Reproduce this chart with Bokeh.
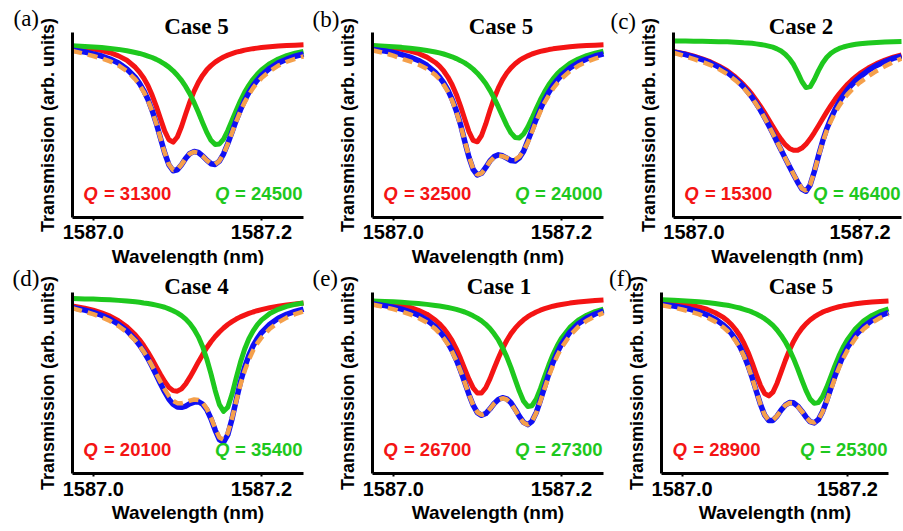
from bokeh.plotting import figure
from bokeh.models import Range1d, Label, FixedTicker, NumeralTickFormatter, LinearAxis
from bokeh.layouts import column, row
from bokeh.embed import file_html
from bokeh.resources import INLINE

# ---------------- data ----------------
wavelength_nm = [1586.975, 1586.99, 1587.00, 1587.01, 1587.02, 1587.03, 1587.04, 1587.05,
                 1587.055, 1587.06, 1587.065, 1587.07, 1587.075, 1587.08, 1587.085, 1587.09,
                 1587.095, 1587.10, 1587.105, 1587.11, 1587.115, 1587.12, 1587.125, 1587.13,
                 1587.135, 1587.14, 1587.145, 1587.15, 1587.155, 1587.16, 1587.165, 1587.17,
                 1587.175, 1587.18, 1587.185, 1587.19, 1587.195, 1587.20, 1587.21, 1587.22,
                 1587.23, 1587.24, 1587.25]

red_a = [0.925, 0.919, 0.912, 0.904, 0.892, 0.875, 0.851, 0.813, 0.787, 0.755, 0.714, 0.662, 0.601, 0.533, 0.467, 0.420, 0.407, 0.435, 0.492, 0.561, 0.627, 0.684, 0.731, 0.769, 0.799, 0.822, 0.841, 0.856, 0.869, 0.879, 0.887, 0.895, 0.900, 0.906, 0.910, 0.914, 0.917, 0.920, 0.924, 0.928, 0.931, 0.933, 0.935]
green_a = [0.930, 0.926, 0.923, 0.920, 0.915, 0.910, 0.903, 0.893, 0.888, 0.882, 0.874, 0.866, 0.856, 0.844, 0.830, 0.814, 0.794, 0.770, 0.742, 0.708, 0.668, 0.621, 0.569, 0.513, 0.460, 0.417, 0.394, 0.397, 0.424, 0.470, 0.524, 0.579, 0.631, 0.677, 0.715, 0.748, 0.775, 0.798, 0.833, 0.858, 0.876, 0.889, 0.899]
blue_a = [0.906, 0.896, 0.886, 0.874, 0.858, 0.836, 0.804, 0.758, 0.726, 0.687, 0.639, 0.579, 0.508, 0.428, 0.348, 0.284, 0.252, 0.257, 0.285, 0.320, 0.346, 0.356, 0.351, 0.333, 0.309, 0.290, 0.286, 0.304, 0.344, 0.400, 0.462, 0.525, 0.582, 0.633, 0.676, 0.713, 0.743, 0.769, 0.808, 0.837, 0.857, 0.873, 0.885]
fit_a = [0.902, 0.886, 0.874, 0.861, 0.845, 0.823, 0.792, 0.748, 0.717, 0.680, 0.634, 0.576, 0.507, 0.428, 0.349, 0.286, 0.255, 0.259, 0.286, 0.320, 0.345, 0.354, 0.349, 0.332, 0.309, 0.291, 0.288, 0.305, 0.343, 0.398, 0.458, 0.519, 0.574, 0.623, 0.664, 0.700, 0.729, 0.754, 0.793, 0.822, 0.843, 0.859, 0.872]

red_b = [0.929, 0.923, 0.918, 0.911, 0.901, 0.888, 0.868, 0.839, 0.819, 0.793, 0.760, 0.718, 0.666, 0.603, 0.532, 0.464, 0.417, 0.409, 0.443, 0.506, 0.578, 0.645, 0.701, 0.746, 0.782, 0.810, 0.832, 0.850, 0.864, 0.875, 0.885, 0.892, 0.899, 0.904, 0.909, 0.913, 0.916, 0.919, 0.924, 0.928, 0.931, 0.933, 0.935]
green_b = [0.931, 0.927, 0.924, 0.921, 0.916, 0.911, 0.904, 0.896, 0.891, 0.885, 0.878, 0.870, 0.860, 0.849, 0.837, 0.821, 0.803, 0.781, 0.755, 0.725, 0.688, 0.646, 0.598, 0.547, 0.498, 0.457, 0.432, 0.430, 0.451, 0.489, 0.537, 0.588, 0.637, 0.680, 0.718, 0.750, 0.777, 0.799, 0.834, 0.858, 0.876, 0.889, 0.900]
blue_b = [0.910, 0.901, 0.893, 0.882, 0.868, 0.850, 0.824, 0.786, 0.760, 0.728, 0.689, 0.639, 0.577, 0.503, 0.412, 0.326, 0.259, 0.229, 0.238, 0.270, 0.305, 0.329, 0.338, 0.333, 0.320, 0.307, 0.305, 0.322, 0.358, 0.415, 0.473, 0.532, 0.587, 0.636, 0.678, 0.714, 0.744, 0.769, 0.809, 0.837, 0.858, 0.874, 0.886]
fit_b = [0.905, 0.890, 0.876, 0.860, 0.845, 0.828, 0.805, 0.772, 0.748, 0.718, 0.681, 0.633, 0.572, 0.499, 0.414, 0.330, 0.263, 0.231, 0.238, 0.268, 0.302, 0.325, 0.334, 0.331, 0.322, 0.313, 0.313, 0.328, 0.360, 0.405, 0.462, 0.520, 0.574, 0.622, 0.662, 0.697, 0.726, 0.751, 0.792, 0.821, 0.843, 0.860, 0.874]

red_c = [0.899, 0.885, 0.873, 0.859, 0.842, 0.820, 0.794, 0.760, 0.740, 0.718, 0.693, 0.666, 0.635, 0.602, 0.567, 0.530, 0.492, 0.455, 0.422, 0.393, 0.373, 0.363, 0.363, 0.375, 0.396, 0.425, 0.459, 0.496, 0.534, 0.571, 0.606, 0.639, 0.669, 0.696, 0.721, 0.743, 0.762, 0.780, 0.809, 0.833, 0.852, 0.868, 0.880]
green_c = [0.956, 0.955, 0.954, 0.954, 0.953, 0.952, 0.951, 0.949, 0.948, 0.946, 0.945, 0.943, 0.940, 0.937, 0.933, 0.928, 0.922, 0.913, 0.901, 0.884, 0.860, 0.828, 0.784, 0.736, 0.703, 0.708, 0.747, 0.795, 0.836, 0.867, 0.889, 0.904, 0.915, 0.923, 0.929, 0.934, 0.938, 0.941, 0.945, 0.948, 0.950, 0.952, 0.953]
blue_c = [0.896, 0.882, 0.869, 0.855, 0.837, 0.814, 0.786, 0.750, 0.729, 0.706, 0.679, 0.650, 0.617, 0.581, 0.541, 0.499, 0.455, 0.409, 0.364, 0.319, 0.275, 0.232, 0.189, 0.153, 0.141, 0.175, 0.248, 0.333, 0.412, 0.480, 0.536, 0.585, 0.626, 0.661, 0.692, 0.718, 0.742, 0.762, 0.796, 0.823, 0.844, 0.861, 0.874]
fit_c = [0.893, 0.872, 0.857, 0.842, 0.825, 0.803, 0.776, 0.742, 0.722, 0.700, 0.674, 0.645, 0.613, 0.578, 0.539, 0.497, 0.454, 0.409, 0.364, 0.320, 0.276, 0.233, 0.191, 0.155, 0.143, 0.176, 0.247, 0.330, 0.406, 0.470, 0.522, 0.567, 0.605, 0.638, 0.666, 0.690, 0.712, 0.731, 0.764, 0.793, 0.818, 0.841, 0.860]

red_d = [0.924, 0.912, 0.901, 0.886, 0.868, 0.843, 0.810, 0.765, 0.738, 0.706, 0.670, 0.631, 0.589, 0.547, 0.508, 0.476, 0.458, 0.455, 0.468, 0.495, 0.532, 0.573, 0.616, 0.656, 0.694, 0.727, 0.756, 0.781, 0.803, 0.822, 0.838, 0.852, 0.864, 0.874, 0.883, 0.891, 0.898, 0.904, 0.915, 0.923, 0.930, 0.935, 0.940]
green_d = [0.965, 0.963, 0.962, 0.960, 0.958, 0.955, 0.951, 0.947, 0.945, 0.941, 0.938, 0.934, 0.929, 0.923, 0.917, 0.908, 0.898, 0.886, 0.871, 0.852, 0.827, 0.795, 0.754, 0.701, 0.632, 0.550, 0.459, 0.381, 0.344, 0.367, 0.438, 0.528, 0.614, 0.686, 0.743, 0.786, 0.820, 0.846, 0.883, 0.906, 0.922, 0.933, 0.941]
blue_d = [0.916, 0.901, 0.889, 0.873, 0.852, 0.824, 0.788, 0.739, 0.709, 0.674, 0.635, 0.591, 0.544, 0.496, 0.451, 0.411, 0.383, 0.368, 0.366, 0.373, 0.386, 0.395, 0.397, 0.384, 0.353, 0.303, 0.241, 0.188, 0.174, 0.215, 0.302, 0.406, 0.504, 0.586, 0.652, 0.704, 0.745, 0.777, 0.824, 0.856, 0.878, 0.894, 0.907]
fit_d = [0.912, 0.893, 0.879, 0.862, 0.841, 0.814, 0.780, 0.734, 0.706, 0.673, 0.636, 0.594, 0.550, 0.506, 0.465, 0.428, 0.402, 0.389, 0.388, 0.394, 0.403, 0.409, 0.407, 0.391, 0.359, 0.309, 0.250, 0.200, 0.188, 0.225, 0.305, 0.400, 0.490, 0.566, 0.628, 0.678, 0.718, 0.750, 0.799, 0.834, 0.860, 0.879, 0.894]

red_e = [0.950, 0.943, 0.936, 0.928, 0.916, 0.900, 0.879, 0.847, 0.826, 0.801, 0.770, 0.733, 0.688, 0.636, 0.578, 0.521, 0.473, 0.445, 0.445, 0.474, 0.523, 0.581, 0.638, 0.690, 0.734, 0.772, 0.802, 0.827, 0.848, 0.865, 0.879, 0.891, 0.901, 0.909, 0.916, 0.923, 0.928, 0.932, 0.940, 0.946, 0.950, 0.954, 0.957]
green_e = [0.951, 0.949, 0.947, 0.944, 0.941, 0.938, 0.933, 0.927, 0.924, 0.920, 0.916, 0.911, 0.905, 0.898, 0.891, 0.881, 0.870, 0.857, 0.842, 0.823, 0.800, 0.771, 0.737, 0.694, 0.644, 0.585, 0.519, 0.454, 0.400, 0.371, 0.375, 0.411, 0.469, 0.535, 0.599, 0.657, 0.705, 0.746, 0.806, 0.846, 0.873, 0.893, 0.907]
blue_e = [0.936, 0.926, 0.918, 0.907, 0.892, 0.873, 0.847, 0.810, 0.785, 0.756, 0.721, 0.678, 0.628, 0.569, 0.504, 0.437, 0.378, 0.337, 0.322, 0.332, 0.357, 0.387, 0.409, 0.419, 0.413, 0.391, 0.356, 0.316, 0.283, 0.271, 0.289, 0.337, 0.405, 0.479, 0.551, 0.614, 0.668, 0.713, 0.780, 0.826, 0.858, 0.880, 0.898]
fit_e = [0.932, 0.918, 0.907, 0.894, 0.878, 0.858, 0.833, 0.798, 0.774, 0.746, 0.713, 0.672, 0.624, 0.567, 0.503, 0.437, 0.379, 0.339, 0.324, 0.333, 0.357, 0.386, 0.407, 0.416, 0.409, 0.387, 0.352, 0.313, 0.281, 0.270, 0.289, 0.335, 0.400, 0.470, 0.538, 0.598, 0.650, 0.694, 0.762, 0.809, 0.843, 0.867, 0.886]

red_f = [0.947, 0.941, 0.936, 0.928, 0.919, 0.906, 0.887, 0.861, 0.843, 0.821, 0.793, 0.760, 0.718, 0.668, 0.609, 0.545, 0.485, 0.442, 0.429, 0.450, 0.499, 0.561, 0.624, 0.681, 0.729, 0.768, 0.800, 0.826, 0.847, 0.864, 0.878, 0.890, 0.899, 0.907, 0.914, 0.920, 0.925, 0.929, 0.936, 0.942, 0.946, 0.949, 0.952]
green_f = [0.958, 0.955, 0.953, 0.950, 0.947, 0.943, 0.938, 0.931, 0.928, 0.923, 0.918, 0.913, 0.906, 0.899, 0.890, 0.880, 0.868, 0.854, 0.837, 0.817, 0.792, 0.762, 0.727, 0.684, 0.634, 0.578, 0.517, 0.459, 0.412, 0.388, 0.392, 0.424, 0.475, 0.534, 0.594, 0.649, 0.697, 0.737, 0.799, 0.842, 0.872, 0.893, 0.908]
blue_f = [0.933, 0.924, 0.916, 0.906, 0.893, 0.876, 0.852, 0.819, 0.798, 0.771, 0.739, 0.700, 0.652, 0.594, 0.527, 0.453, 0.381, 0.323, 0.293, 0.294, 0.318, 0.351, 0.378, 0.392, 0.391, 0.373, 0.345, 0.313, 0.287, 0.280, 0.298, 0.341, 0.401, 0.469, 0.536, 0.596, 0.649, 0.694, 0.763, 0.811, 0.845, 0.870, 0.888]
fit_f = [0.929, 0.915, 0.905, 0.893, 0.879, 0.861, 0.838, 0.806, 0.786, 0.761, 0.730, 0.693, 0.647, 0.591, 0.525, 0.452, 0.381, 0.324, 0.295, 0.296, 0.319, 0.351, 0.377, 0.390, 0.389, 0.371, 0.344, 0.313, 0.288, 0.282, 0.299, 0.339, 0.396, 0.461, 0.525, 0.583, 0.634, 0.678, 0.747, 0.797, 0.833, 0.859, 0.878]

panel_tags = ["(a)", "(b)", "(c)", "(d)", "(e)", "(f)"]
case_titles = ["Case 5", "Case 5", "Case 2", "Case 4", "Case 1", "Case 5"]
q_red = ["31300", "32500", "15300", "20100", "26700", "28900"]
q_green = ["24500", "24000", "46400", "35400", "27300", "25300"]
tick_values = [1587.0, 1587.2]

red_series = [red_a, red_b, red_c, red_d, red_e, red_f]
green_series = [green_a, green_b, green_c, green_d, green_e, green_f]
blue_series = [blue_a, blue_b, blue_c, blue_d, blue_e, blue_f]
fit_series = [fit_a, fit_b, fit_c, fit_d, fit_e, fit_f]

# ---------------- styles / layout ----------------
X0, X1 = 1586.975, 1587.25      # extent of the drawn axes (nm)
Y0, Y1 = 0.0, 1.0               # extent of the drawn axes (arb. units)
SANS = "Liberation Sans"
SERIF = "Liberation Serif"
RED = "#f41414"
GREEN = "#1ec81e"
BLUE = "#1010f4"
ORANGE = "#f5a04b"
# labels are anchored at the middle of their text box: offset from baseline to box middle (em)
SANS_MID = 0.3465
SERIF_MID = 0.3375

# screen-pixel layout: figure box (fx, fy, w, h), axes box (pl, pt, pr, pb), text anchors (baselines)
TOP = dict(fy=0, h=265, pt=32.3, pb=216.7)
BOT = dict(fy=265, h=265, pt=291.7, pb=473.3)
layout_specs = [
    dict(TOP, fx=0,   w=308, pl=71.7,  pr=303, tag=(13, 25.5),  title=(196, 33.3)),
    dict(TOP, fx=308, w=300, pl=371.7, pr=603, tag=(312, 27),   title=(500.5, 33.3)),
    dict(TOP, fx=608, w=294, pl=672.7, pr=901, tag=(610, 28.5), title=(800.5, 33.3)),
    dict(BOT, fx=0,   w=308, pl=71.7,  pr=303, tag=(12, 286),   title=(196, 293.3)),
    dict(BOT, fx=308, w=300, pl=371.7, pr=603, tag=(312, 286),  title=(498.5, 293.3)),
    dict(BOT, fx=608, w=294, pl=661,   pr=888, tag=(608.5, 286), title=(800.5, 293.3)),
]


def make_panel(k):
    s = layout_specs[k]
    pl, pt, pr, pb = s["pl"], s["pt"], s["pr"], s["pb"]
    xs = (X1 - X0) / (pr - pl)
    ys = (Y1 - Y0) / (pb - pt)

    def dx(px):
        return X0 + (px - pl) * xs

    def dy(py):
        return Y1 - (py - pt) * ys

    x_range = Range1d(dx(s["fx"]), dx(s["fx"] + s["w"]))
    y_range = Range1d(dy(s["fy"] + s["h"]), dy(s["fy"]))

    p = figure(width=s["w"], height=s["h"], x_range=x_range, y_range=y_range,
               output_backend="svg", toolbar_location=None, title=None,
               x_axis_location=None, y_axis_location=None,
               min_border_left=0, min_border_right=0, min_border_top=0, min_border_bottom=0)
    p.background_fill_color = "white"
    p.border_fill_color = "white"
    p.outline_line_color = None
    p.xgrid.visible = False
    p.ygrid.visible = False

    p.line(wavelength_nm, red_series[k], line_color=RED, line_width=5, line_join="round")
    p.line(wavelength_nm, green_series[k], line_color=GREEN, line_width=5, line_join="round")
    p.line(wavelength_nm, blue_series[k], line_color=BLUE, line_width=5.5, line_join="round")
    p.line(wavelength_nm, fit_series[k], line_color=ORANGE, line_width=4.5, line_dash="10 6")

    xa = LinearAxis(fixed_location=Y0, bounds=(X0, X1),
                    ticker=FixedTicker(ticks=tick_values),
                    formatter=NumeralTickFormatter(format="0.0"),
                    axis_label="Wavelength (nm)")
    xa.axis_line_width = 3
    xa.axis_line_color = "black"
    xa.major_tick_out = 3
    xa.major_tick_in = 0
    xa.major_tick_line_width = 2
    xa.minor_tick_line_color = None
    xa.major_label_standoff = 5
    xa.major_label_text_font = SANS
    xa.major_label_text_font_size = "20px"
    xa.major_label_text_font_style = "bold"
    xa.major_label_text_color = "black"
    xa.axis_label_text_font = SANS
    xa.axis_label_text_font_size = "19px"
    xa.axis_label_text_font_style = "bold"
    xa.axis_label_text_color = "black"
    xa.axis_label_standoff = 3
    p.add_layout(xa, "below")

    ya = LinearAxis(fixed_location=X0, bounds=(Y0, Y1), ticker=FixedTicker(ticks=[]),
                    axis_label="Transmission (arb. units)")
    ya.axis_line_width = 3
    ya.axis_line_color = "black"
    ya.major_tick_out = 0
    ya.major_tick_in = 0
    ya.minor_tick_line_color = None
    ya.major_label_standoff = 0
    ya.axis_label_text_font = SANS
    ya.axis_label_text_font_size = "18px"
    ya.axis_label_text_font_style = "bold"
    ya.axis_label_text_color = "black"
    ya.axis_label_standoff = 15
    p.add_layout(ya, "left")

    def add_text(x, baseline, text, font, size, style, color, align, mid):
        p.add_layout(Label(x=dx(x), y=dy(baseline - mid * size), text=text,
                           text_align=align, text_baseline="middle",
                           text_font=font, text_font_size=f"{size}px",
                           text_font_style=style, text_color=color))

    # panel tag and case title
    tx, ty = s["tag"]
    add_text(tx, ty, panel_tags[k], SERIF, 23, "normal", "black", "left", SERIF_MID)
    cx, cy = s["title"]
    add_text(cx, cy, case_titles[k], SERIF, 23, "bold", "black", "center", SERIF_MID)
    # Q labels
    qb = pb - 17.5
    add_text(pl + 11, qb, "Q", SANS, 18.5, "bold italic", RED, "left", SANS_MID)
    add_text(pl + 31.7, qb, "= " + q_red[k], SANS, 18.5, "bold", RED, "left", SANS_MID)
    add_text(pr - 74, qb, "Q", SANS, 18.5, "bold italic", GREEN, "right", SANS_MID)
    add_text(pr - 1, qb, "= " + q_green[k], SANS, 18.5, "bold", GREEN, "right", SANS_MID)
    return p


panels = [make_panel(k) for k in range(6)]
layout = column(row(panels[0], panels[1], panels[2]), row(panels[3], panels[4], panels[5]))

open("out.html", "w").write(file_html(layout, INLINE))
